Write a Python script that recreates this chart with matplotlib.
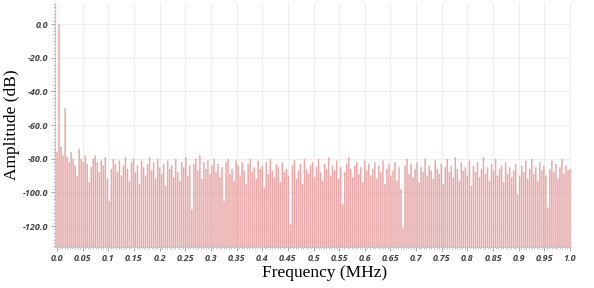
import matplotlib.pyplot as plt
import numpy as np
from matplotlib.ticker import MultipleLocator

# amplitude (dB) of each FFT bin
amp_db = [
    -76, 0.0, -73, -78, -50, -79, -82, -76, -80, -84, -90, -74, -80, -82, -78,
    -83, -94, -85, -80, -78, -82, -88, -81, -84, -79, -92, -105, -86, -80, -83, -88,
    -81, -90, -84, -79, -86, -93, -82, -80, -88, -84, -95, -81, -85, -90, -83, -79,
    -87, -82, -92, -80, -85, -89, -83, -96, -81, -86, -84, -91, -80, -88, -93, -82,
    -85, -79, -90, -84, -110, -83, -80, -87, -78, -92, -82, -86, -81, -89, -84, -80,
    -88, -83, -91, -85, -105, -82, -80, -89, -86, -93, -81, -84, -90, -82, -87, -95,
    -83, -80, -88, -85, -92, -81, -86, -84, -97, -82, -89, -80, -87, -91, -83, -85,
    -94, -82, -88, -86, -90, -119, -84, -81, -92, -87, -83, -95, -80, -86, -89, -84,
    -82, -91, -85, -80, -88, -93, -83, -86, -79, -90, -84, -87, -81, -92, -85, -107,
    -88, -83, -79, -86, -91, -84, -82, -89, -85, -94, -81, -87, -83, -90, -86, -82,
    -92, -84, -88, -81, -95, -86, -83, -90, -87, -82, -93, -85, -98, -121, -84, -80,
    -89, -83, -91, -86, -82, -94, -85, -88, -80, -90, -84, -87, -92, -81, -86, -89,
    -83, -95, -85, -80, -88, -84, -91, -79, -86, -93, -82, -87, -85, -90, -81, -96,
    -84, -88, -82, -91, -86, -79, -89, -85, -93, -83, -87, -80, -90, -86, -84, -94,
    -82, -89, -85, -91, -87, -83, -101, -90, -84, -88, -81, -92, -86, -80, -89, -85,
    -93, -82, -87, -84, -90, -109, -86, -81, -88, -83, -92, -85, -80, -89, -84, -87,
    -86,
]
f_max = 1.0  # MHz
y_ticks = [-120, -100, -80, -60, -40, -20, 0]
x_tick_labels = ["0.0", "0.05", "0.1", "0.15", "0.2", "0.25", "0.3", "0.35", "0.4",
                 "0.45", "0.5", "0.55", "0.6", "0.65", "0.7", "0.75", "0.8", "0.85",
                 "0.9", "0.95", "1.0"]

freq = np.linspace(0, f_max, len(amp_db))
amp = np.array(amp_db)
y_lo, y_hi = -132.5, 12.5

fig = plt.figure(figsize=(5.94, 2.88), dpi=100)
ax = fig.add_axes([0.0926, 0.142, 0.8687, 0.847])

df = freq[1] - freq[0]
bars = ax.bar(freq, amp - y_lo, bottom=y_lo, width=df * 0.75,
              facecolor="#e69898", edgecolor="none", linewidth=0,
              alpha=0.85, zorder=2)
for b in bars:
    b.set_snap(False)

ax.set_xlim(-0.004, 1.002)
ax.set_ylim(y_lo, y_hi)

ax.set_xticks(np.linspace(0, 1, len(x_tick_labels)))
ax.set_xticklabels(x_tick_labels)
ax.set_yticks(y_ticks)
ax.set_yticklabels([f"{v:.1f}" for v in y_ticks])
ax.xaxis.set_minor_locator(MultipleLocator(0.005))
ax.yaxis.set_minor_locator(MultipleLocator(2))

for lab in ax.get_xticklabels() + ax.get_yticklabels():
    lab.set_fontfamily("Open Sans")
    lab.set_fontstyle("italic")
    lab.set_fontweight("bold")
    lab.set_fontsize(6.5)
    lab.set_color("#444444")

ax.tick_params(which="major", length=3, width=0.6, color="#999999", pad=2)
ax.tick_params(which="minor", length=1.5, width=0.5, color="#aaaaaa")

ax.grid(True, which="major", color="#eeeeee", linewidth=0.7, zorder=0)
ax.set_axisbelow(True)

for side in ["top", "right"]:
    ax.spines[side].set_visible(False)
for side in ["left", "bottom"]:
    ax.spines[side].set_color("#bbbbbb")
    ax.spines[side].set_linewidth(0.6)

ax.set_xlabel("Frequency (MHz)", fontfamily="Liberation Serif", fontsize=12.5, labelpad=1)
ax.xaxis.set_label_coords(0.522, -0.075)
ax.set_ylabel("Amplitude (dB)", fontfamily="Liberation Serif", fontsize=12.5, labelpad=2)

fig.savefig("out.png", dpi=100)
